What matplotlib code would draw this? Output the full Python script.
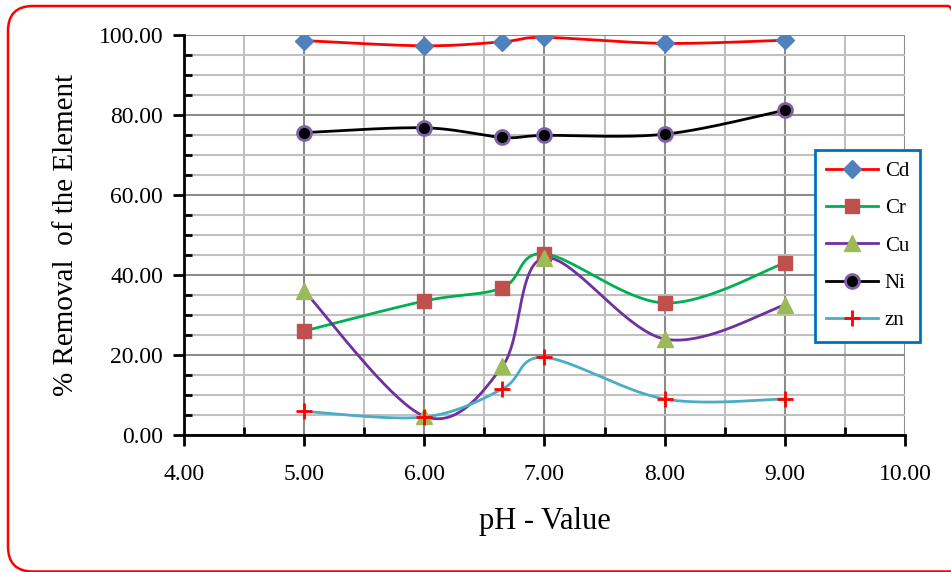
import numpy as np
import matplotlib.pyplot as plt
from matplotlib.patches import FancyBboxPatch
from matplotlib.ticker import MultipleLocator, FormatStrFormatter
from matplotlib.lines import Line2D

plt.rcParams['font.family'] = ['Liberation Serif', 'DejaVu Serif']

# pH values and % removal
ph = [5.0, 6.0, 6.65, 7.0, 8.0, 9.0]
cd = [98.6, 97.3, 98.3, 99.4, 97.9, 98.7]
cr = [26.0, 33.5, 36.8, 45.3, 33.0, 43.0]
cu = [36.0, 4.7, 17.2, 44.3, 24.0, 32.5]
ni = [75.6, 76.8, 74.4, 74.9, 75.2, 81.2]
zn = [5.9, 4.5, 11.5, 19.4, 9.0, 9.0]

names = ['Cd', 'Cr', 'Cu', 'Ni', 'zn']
line_cols = ['#FF0000', '#00B050', '#7030A0', '#000000', '#4BACC6']
mk = ['D', 's', '^', 'o', '+']
mk_face = ['#4F81BD', '#C0504D', '#9BBB59', '#000000', '#FF0000']
mk_edge = ['#4F81BD', '#C0504D', '#9BBB59', '#7F5FA8', '#FF0000']
mk_size = [9, 10, 11, 10, 11]


def smooth(x, y, n=40):
    # excel style smoothed line (bezier through the points)
    x = np.asarray(x, float)
    y = np.asarray(y, float)
    px = np.concatenate([[x[0]], x, [x[-1]]])
    py = np.concatenate([[y[0]], y, [y[-1]]])
    xs, ys = [], []
    t = np.linspace(0, 1, n)
    for i in range(1, len(px) - 2):
        p0 = np.array([px[i], py[i]])
        p3 = np.array([px[i + 1], py[i + 1]])
        p1 = p0 + (p3 - np.array([px[i - 1], py[i - 1]])) / 6
        p2 = p3 - (np.array([px[i + 2], py[i + 2]]) - p0) / 6
        b = ((1 - t) ** 3)[:, None] * p0 + (3 * (1 - t) ** 2 * t)[:, None] * p1 \
            + (3 * (1 - t) * t ** 2)[:, None] * p2 + (t ** 3)[:, None] * p3
        xs.extend(b[:, 0])
        ys.extend(b[:, 1])
    return xs, ys


fig = plt.figure(figsize=(9.51, 5.72), dpi=100)
ax = fig.add_axes([0.1935, 0.2395, 0.7581, 0.6993])

handles = []
for i, vals in enumerate([cd, cr, cu, ni, zn]):
    sx, sy = smooth(ph, vals)
    ax.plot(sx, sy, color=line_cols[i], lw=2, zorder=3)
    mew = 2 if mk[i] in ['+', 'o'] else 1
    ax.plot(ph, vals, ls='none', marker=mk[i], ms=mk_size[i], mfc=mk_face[i],
            mec=mk_edge[i], mew=mew, zorder=4)
    handles.append(Line2D([], [], color=line_cols[i], lw=2, marker=mk[i], ms=mk_size[i],
                          mfc=mk_face[i], mec=mk_edge[i], mew=mew))

ax.set_xlim(4, 10)
ax.set_ylim(0, 100)
ax.xaxis.set_major_locator(MultipleLocator(1))
ax.xaxis.set_minor_locator(MultipleLocator(0.5))
ax.yaxis.set_major_locator(MultipleLocator(20))
ax.yaxis.set_minor_locator(MultipleLocator(5))
ax.xaxis.set_major_formatter(FormatStrFormatter('%.2f'))
ax.yaxis.set_major_formatter(FormatStrFormatter('%.2f'))

ax.grid(which='major', color='#8C8C8C', lw=1.5)
ax.grid(which='minor', color='#C0C0C0', lw=1.5)
ax.set_axisbelow(True)

for s in ['top', 'right']:
    ax.spines[s].set_visible(False)
for s in ['left', 'bottom']:
    ax.spines[s].set_linewidth(2)
ax.tick_params(which='major', direction='out', length=8, width=2, labelsize=17, pad=7)
ax.tick_params(axis='x', which='major', pad=13)
ax.tick_params(which='minor', direction='in', length=6, width=2)

ax.set_xlabel('pH - Value', fontsize=22, labelpad=16)
ax.set_ylabel('% Removal  of the Element', fontsize=21, labelpad=14)

leg = ax.legend(handles, names, loc='upper left', bbox_to_anchor=(0.875, 0.7125),
                borderaxespad=0, fontsize=15, frameon=True, fancybox=False,
                handlelength=2.5, labelspacing=0.85, borderpad=0.55, handletextpad=0.3)
leg.get_frame().set_edgecolor('#0070C0')
leg.get_frame().set_linewidth(2)
leg.get_frame().set_alpha(1)

border = FancyBboxPatch((0.08, 0.005), 9.65, 5.655, boxstyle='round,pad=0,rounding_size=0.25',
                        transform=fig.dpi_scale_trans, fill=False, ec='#FF0000', lw=1.8)
fig.patches.append(border)

fig.savefig('out.png', dpi=100)
